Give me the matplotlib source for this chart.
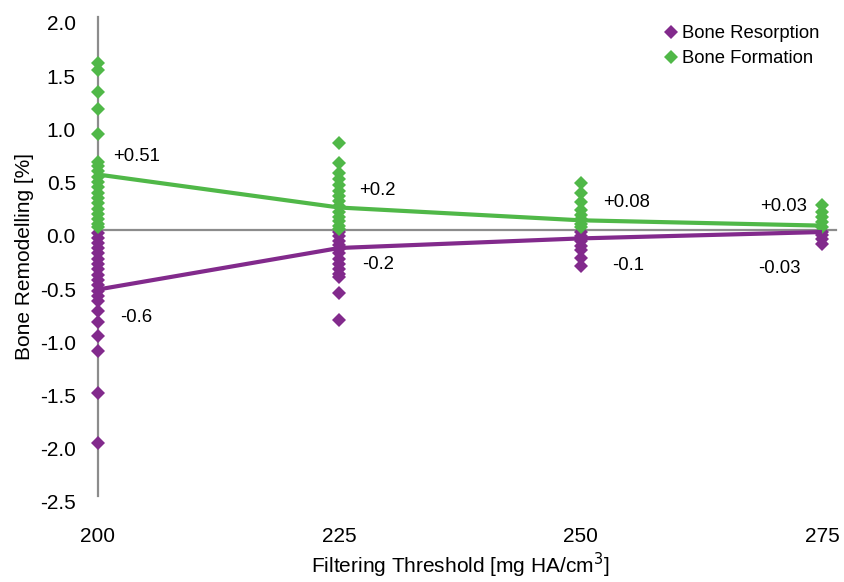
import matplotlib
matplotlib.use("Agg")
import matplotlib.pyplot as plt
from matplotlib.transforms import ScaledTranslation

plt.rcParams["font.family"] = ["Liberation Sans", "DejaVu Sans"]

# Filtering thresholds [mg HA/cm3]
thresholds = [200, 225, 250, 275]

# individual bone formation values per threshold [%]
formation = [
    [1.57, 1.50, 1.30, 1.14, 0.90, 0.64, 0.60, 0.55, 0.50, 0.45, 0.40, 0.35,
     0.30, 0.25, 0.20, 0.15, 0.10, 0.06, 0.03],
    [0.82, 0.63, 0.53, 0.48, 0.42, 0.37, 0.32, 0.27, 0.22, 0.17, 0.12, 0.08,
     0.04, 0.01],
    [0.44, 0.35, 0.26, 0.19, 0.14, 0.10, 0.06, 0.03],
    [0.23, 0.17, 0.12, 0.07, 0.03],
]

# individual bone resorption values per threshold [%]
resorption = [
    [-0.03, -0.08, -0.12, -0.17, -0.22, -0.27, -0.32, -0.37, -0.42, -0.47,
     -0.52, -0.57, -0.62, -0.67, -0.76, -0.87, -1.00, -1.14, -1.53, -2.00],
    [-0.02, -0.06, -0.10, -0.14, -0.18, -0.22, -0.27, -0.32, -0.37, -0.41,
     -0.44, -0.59, -0.85],
    [-0.02, -0.06, -0.10, -0.15, -0.19, -0.26, -0.34],
    [-0.02, -0.05, -0.09, -0.13],
]

# mean lines
formation_mean = [0.52, 0.21, 0.09, 0.04]
resorption_mean = [-0.56, -0.17, -0.08, -0.02]

formation_labels = ["+0.51", "+0.2", "+0.08", "+0.03"]
resorption_labels = ["-0.6", "-0.2", "-0.1", "-0.03"]

GREEN = "#50b848"
PURPLE = "#822a8c"
GRAY = "#8c8c8c"

fig = plt.figure(figsize=(8.44, 5.82), dpi=100)
ax = fig.add_axes([98 / 844, 1 - 496 / 582, (822 - 98) / 844, (496 - 17) / 582])

# zero line (category axis)
ax.plot([200, 276.5], [0, 0], color=GRAY, lw=1.6, zorder=1, clip_on=False)

for x, vals in zip(thresholds, resorption):
    ax.plot([x] * len(vals), vals, "D", color=PURPLE, ms=6.8, mew=0,
            zorder=3, clip_on=False, label="_nolegend_")
for x, vals in zip(thresholds, formation):
    ax.plot([x] * len(vals), vals, "D", color=GREEN, ms=6.8, mew=0,
            zorder=4, clip_on=False, label="_nolegend_")

ax.plot(thresholds, formation_mean, color=GREEN, lw=3, zorder=5,
        solid_capstyle="butt", clip_on=False)
ax.plot(thresholds, resorption_mean, color=PURPLE, lw=3, zorder=5,
        solid_capstyle="butt", clip_on=False)

# mean labels, offsets in pixels from the mean point
f_off = [(15, 18), (20, 17), (22, 18), (-62, 19)]
r_off = [(22, -28), (23, -17), (31, -27), (-64, -36)]
for x, y, txt, off in zip(thresholds, formation_mean, formation_labels, f_off):
    ax.annotate(txt, (x, y), xytext=off, textcoords="offset pixels",
                ha="left", va="center", fontsize=13.3, zorder=6)
for x, y, txt, off in zip(thresholds, resorption_mean, resorption_labels, r_off):
    ax.annotate(txt, (x, y), xytext=off, textcoords="offset pixels",
                ha="left", va="center", fontsize=13.3, zorder=6)

ax.set_xlim(200, 275)
ax.set_ylim(-2.5, 2.0)
ax.set_xticks(thresholds)
ax.set_yticks([2.0, 1.5, 1.0, 0.5, 0.0, -0.5, -1.0, -1.5, -2.0, -2.5])
ax.set_yticklabels(["2.0", "1.5", "1.0", "0.5", "0.0", "-0.5", "-1.0",
                    "-1.5", "-2.0", "-2.5"])
ax.tick_params(axis="y", length=0, pad=16, labelsize=15)
ax.tick_params(axis="x", length=0, pad=22, labelsize=15)
for lab in ax.get_yticklabels():
    lab.set_transform(lab.get_transform() +
                      ScaledTranslation(0, -0.06, fig.dpi_scale_trans))

for side in ["top", "right", "bottom"]:
    ax.spines[side].set_visible(False)
ax.spines["left"].set_color(GRAY)
ax.spines["left"].set_linewidth(1.6)
ax.spines["left"].set_zorder(0.5)

ax.set_xlabel("Filtering Threshold [mg HA/cm$^3$]", fontsize=15, labelpad=4)
ax.set_ylabel("Bone Remodelling [%]", fontsize=15, labelpad=4)

# legend
h1, = ax.plot([], [], "D", color=PURPLE, ms=6.8, mew=0)
h2, = ax.plot([], [], "D", color=GREEN, ms=6.8, mew=0)
ax.legend([h1, h2], ["Bone Resorption", "Bone Formation"], loc="upper right",
          bbox_to_anchor=(1.02, 1.018), frameon=False, fontsize=13.3,
          handletextpad=0.0, labelspacing=0.45, handlelength=1.2)

fig.savefig("out.png", dpi=100)
